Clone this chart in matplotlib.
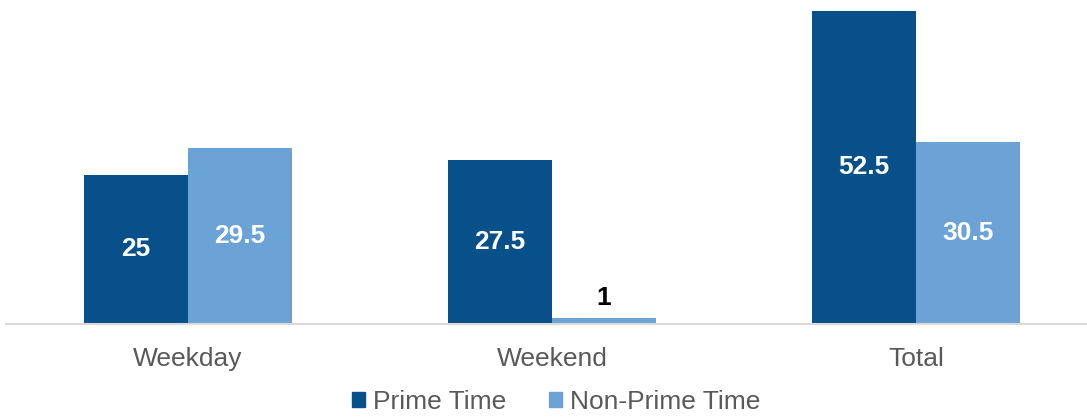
import matplotlib
matplotlib.use("Agg")
import matplotlib.pyplot as plt
import numpy as np
from matplotlib.patches import Patch

categories = ["Weekday", "Weekend", "Total"]
prime_time = [25, 27.5, 52.5]
non_prime_time = [29.5, 1, 30.5]
series_names = ["Prime Time", "Non-Prime Time"]

dark_blue = "#08508A"
light_blue = "#6BA3D6"
text_grey = "#595959"

plt.rcParams["font.family"] = ["Liberation Sans", "DejaVu Sans"]

W, H = 1087, 417
fig = plt.figure(figsize=(W / 100, H / 100), dpi=100)
ax_left, ax_right = 6, 1087
ax_bottom, ax_top = 417 - 323.5, 417 - 2
ax = fig.add_axes([ax_left / W, ax_bottom / H, (ax_right - ax_left) / W, (ax_top - ax_bottom) / H])

x = np.arange(len(categories))
bw = 0.286
b1 = ax.bar(x - bw / 2, prime_time, bw, color=dark_blue, label=series_names[0])
b2 = ax.bar(x + bw / 2, non_prime_time, bw, color=light_blue, label=series_names[1])

ax.set_xlim(-0.5, -0.5 + (ax_right - ax_left) / 364)
ax.set_ylim(0, 52.5 * (ax_top - ax_bottom) / 312.5)

for bars, vals in ((b1, prime_time), (b2, non_prime_time)):
    for rect, v in zip(bars, vals):
        cx = rect.get_x() + rect.get_width() / 2
        label = f"{v:g}"
        if v < 5:
            ax.annotate(label, (cx, v), xytext=(0, 14), textcoords="offset points",
                        ha="center", va="center", fontsize=19, fontweight="bold", color="black")
        else:
            ax.text(cx, v / 2, label, ha="center", va="center", fontsize=19,
                    fontweight="bold", color="white")

for s in ("top", "right", "left"):
    ax.spines[s].set_visible(False)
ax.spines["bottom"].set_color("#D9D9D9")
ax.spines["bottom"].set_linewidth(1.5)
ax.set_yticks([])
ax.set_xticks(x)
ax.set_xticklabels(categories, fontsize=19, color=text_grey)
ax.tick_params(axis="x", length=0, pad=17)

handles = [Patch(color=dark_blue), Patch(color=light_blue)]
fig.legend(handles, series_names, loc="center", bbox_to_anchor=(556 / W, 1 - 402 / H),
           ncol=2, frameon=False, fontsize=19, labelcolor=text_grey,
           handlelength=0.5, handleheight=0.5, handletextpad=0.3, columnspacing=1.6)

fig.savefig("out.png", dpi=100)
